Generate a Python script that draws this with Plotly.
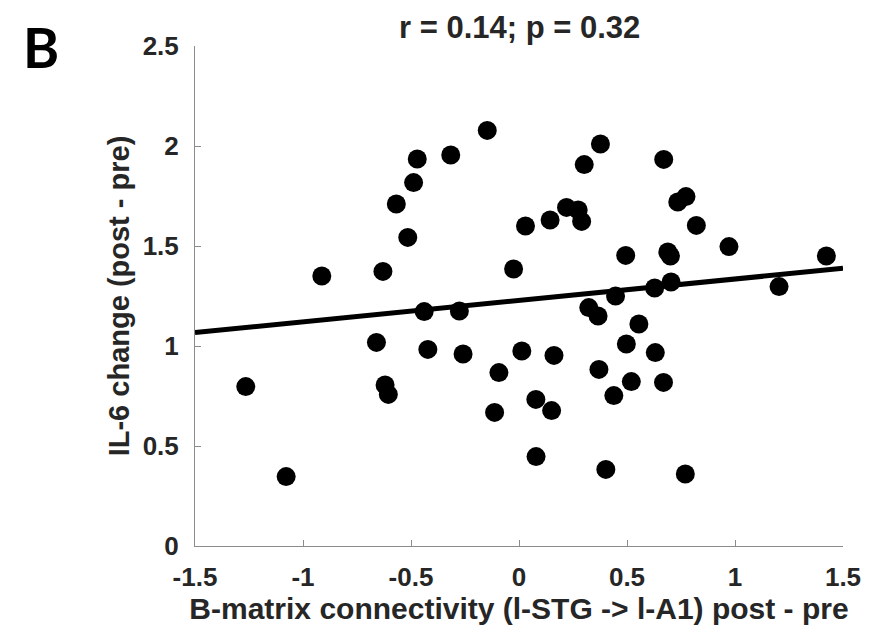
import numpy as np
import plotly.graph_objects as go

# Change in B-matrix connectivity (l-STG -> l-A1), post - pre
connectivity = [
    -1.265, -1.078, -0.913, -0.660, -0.630, -0.620, -0.605, -0.568, -0.515, -0.488,
    -0.471, -0.439, -0.422, -0.316, -0.276, -0.259, -0.147, -0.113, -0.093, -0.025,
    0.013, 0.030, 0.078, 0.079, 0.144, 0.151, 0.162, 0.220, 0.274, 0.290,
    0.302, 0.323, 0.366, 0.370, 0.377, 0.402, 0.439, 0.447, 0.494, 0.497,
    0.520, 0.555, 0.628, 0.631, 0.669, 0.670, 0.689, 0.701, 0.704, 0.735,
    0.770, 0.773, 0.821, 0.972, 1.204, 1.423,
]
# Change in IL-6, post - pre
il6_change = [
    0.797, 0.347, 1.350, 1.018, 1.373, 0.805, 0.758, 1.710, 1.543, 1.817,
    1.935, 1.172, 0.983, 1.955, 1.175, 0.960, 2.078, 0.668, 0.867, 1.385,
    0.975, 1.600, 0.733, 0.447, 1.630, 0.677, 0.953, 1.693, 1.680, 1.623,
    1.907, 1.192, 1.150, 0.883, 2.010, 0.383, 0.752, 1.250, 1.453, 1.010,
    0.822, 1.110, 1.290, 0.967, 0.818, 1.933, 1.470, 1.450, 1.320, 1.720,
    0.360, 1.747, 1.603, 1.497, 1.297, 1.450,
]

# Least-squares line
fit_slope = 0.107
fit_intercept = 1.228
fit_x = np.array([-1.5, 1.5])
fit_y = fit_intercept + fit_slope * fit_x

x_ticks = [-1.5, -1, -0.5, 0, 0.5, 1, 1.5]
x_tick_text = ["-1.5", "-1", "-0.5", "0", "0.5", "1", "1.5"]
y_ticks = [0, 0.5, 1, 1.5, 2, 2.5]
y_tick_text = ["0", "0.5", "1", "1.5", "2", "2.5"]

FONT = "Liberation Sans, Arial, sans-serif"
TEXT_COLOR = "#262626"

fig = go.Figure()
fig.add_trace(go.Scatter(
    x=connectivity, y=il6_change, mode="markers",
    marker=dict(color="black", size=19, line=dict(width=0)),
    hoverinfo="x+y", showlegend=False,
))
fig.add_trace(go.Scatter(
    x=fit_x, y=fit_y, mode="lines",
    line=dict(color="black", width=5), showlegend=False,
))

axis_common = dict(
    showline=True, linecolor="#8c8c8c", linewidth=1,
    ticks="inside", ticklen=6, tickcolor="#8c8c8c", tickwidth=1,
    showgrid=False, zeroline=False, mirror=False,
    tickfont=dict(family=FONT, size=26, color=TEXT_COLOR, weight="bold"),
)

fig.update_layout(
    width=873, height=635,
    margin=dict(l=195, r=27, t=46, b=89),
    plot_bgcolor="white", paper_bgcolor="white",
    xaxis=dict(
        range=[-1.5, 1.5], tickvals=x_ticks, ticktext=x_tick_text,
        ticklabelstandoff=8,
        title=dict(text="B-matrix connectivity (l-STG -> l-A1) post - pre",
                   font=dict(family=FONT, size=30, color=TEXT_COLOR, weight="bold"),
                   standoff=1),
        **axis_common,
    ),
    yaxis=dict(
        range=[0, 2.5], tickvals=y_ticks, ticktext=y_tick_text,
        ticklabelstandoff=10,
        title=dict(text="IL-6 change (post - pre)",
                   font=dict(family=FONT, size=29, color=TEXT_COLOR, weight="bold"),
                   standoff=4),
        **axis_common,
    ),
    annotations=[
        dict(text="r = 0.14; p = 0.32", x=0.5, y=1.0, xref="paper", yref="paper",
             xanchor="center", yanchor="bottom", yshift=-1, showarrow=False,
             font=dict(family=FONT, size=31, color=TEXT_COLOR, weight="bold")),
        dict(text="B", x=(40 - 195) / 651, y=(546 - 47) / 500, xref="paper", yref="paper",
             xanchor="center", yanchor="middle", showarrow=False,
             font=dict(family="Lato, Open Sans, sans-serif", size=55,
                       color="black", weight="bold")),
    ],
)

fig.write_html("out.html")
